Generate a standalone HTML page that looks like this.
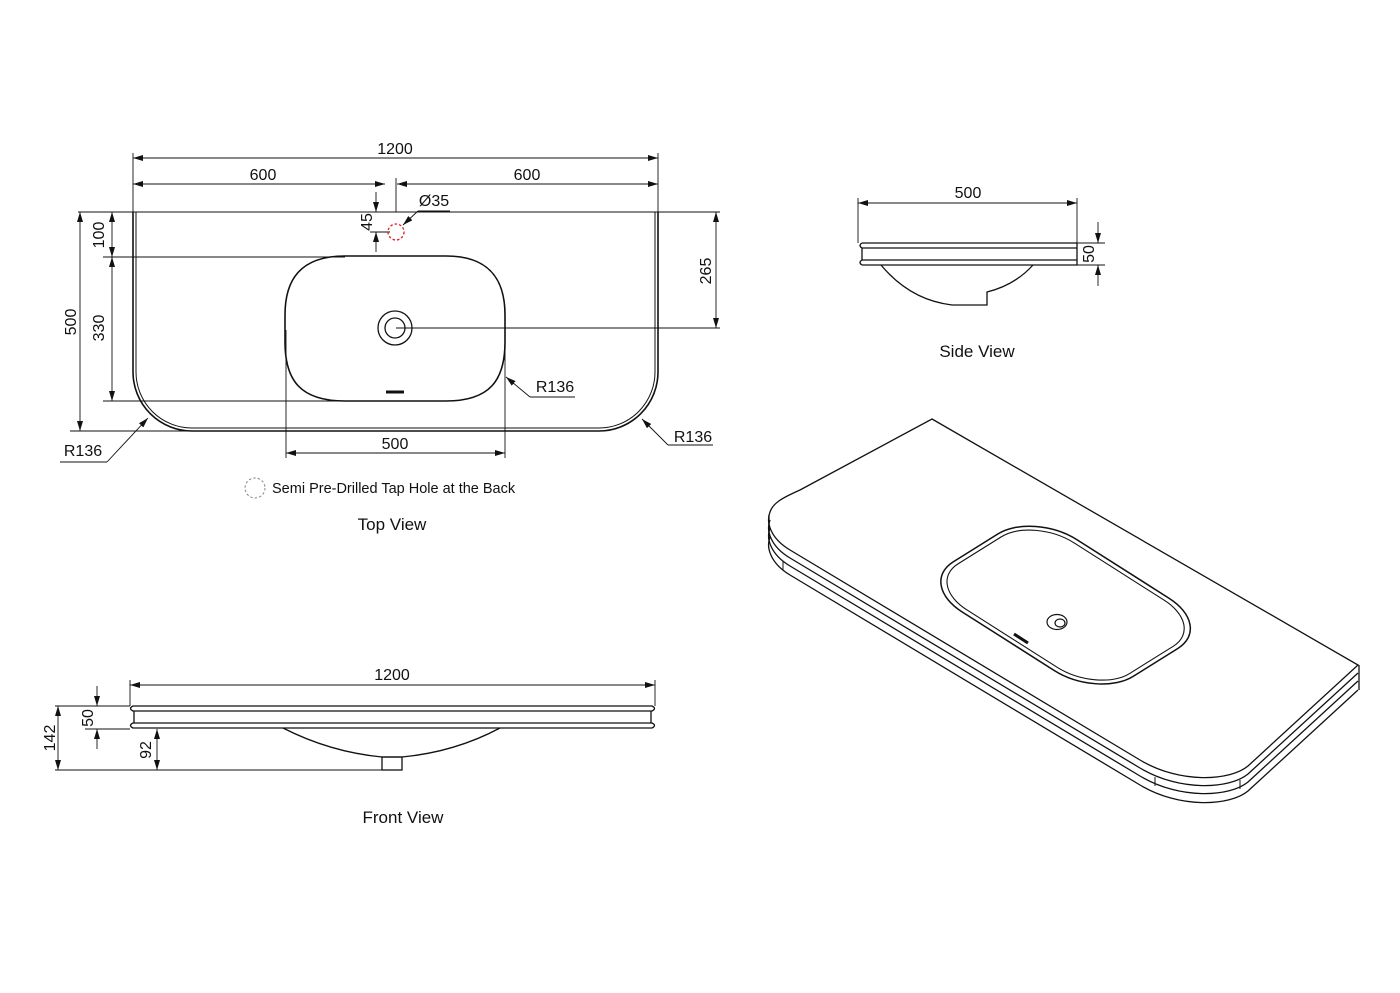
<!DOCTYPE html>
<html><head><meta charset="utf-8"><style>
html,body{margin:0;padding:0;background:#fff;}
svg{display:block;}
text{font-family:"Liberation Sans",Arial,sans-serif;fill:#111;}
</style></head><body>
<svg width="1400" height="993" viewBox="0 0 1400 993" xmlns="http://www.w3.org/2000/svg">
<defs>
<marker id="a" viewBox="0 0 10 6" refX="10" refY="3" markerWidth="10" markerHeight="6" markerUnits="userSpaceOnUse" orient="auto-start-reverse"><path d="M0,0 L10,3 L0,6 Z" fill="#111"/></marker>
</defs>
<g fill="none" stroke="#111">
<!-- TOP VIEW -->
<g stroke-width="0.9">
<line x1="133" y1="153" x2="133" y2="212"/><line x1="658" y1="153" x2="658" y2="212"/>
<line x1="133" y1="158" x2="658" y2="158" marker-start="url(#a)" marker-end="url(#a)"/>
<line x1="133" y1="184" x2="385" y2="184" marker-start="url(#a)" marker-end="url(#a)"/>
<line x1="397" y1="184" x2="658" y2="184" marker-start="url(#a)" marker-end="url(#a)"/>
<line x1="396" y1="178" x2="396" y2="212"/>
<line x1="376" y1="192" x2="376" y2="212" marker-end="url(#a)"/>
<line x1="376" y1="252" x2="376" y2="232" marker-end="url(#a)"/>
<line x1="370" y1="232" x2="390" y2="232"/>
<line x1="78" y1="212" x2="720" y2="212"/>
<line x1="418" y1="211" x2="450" y2="211"/>
<line x1="418" y1="211" x2="403" y2="225" marker-end="url(#a)"/>
<line x1="103" y1="257" x2="345" y2="257"/>
<line x1="103" y1="401" x2="340" y2="401"/>
<line x1="70" y1="431" x2="190" y2="431"/>
<line x1="396" y1="328" x2="720" y2="328"/>
<line x1="112" y1="212" x2="112" y2="257" marker-start="url(#a)" marker-end="url(#a)"/>
<line x1="112" y1="257" x2="112" y2="401" marker-start="url(#a)" marker-end="url(#a)"/>
<line x1="80" y1="212" x2="80" y2="431" marker-start="url(#a)" marker-end="url(#a)"/>
<line x1="716" y1="212" x2="716" y2="328" marker-start="url(#a)" marker-end="url(#a)"/>
<line x1="286" y1="330" x2="286" y2="458"/><line x1="505" y1="330" x2="505" y2="458"/>
<line x1="286" y1="453" x2="505" y2="453" marker-start="url(#a)" marker-end="url(#a)"/>
<line x1="530" y1="397" x2="506" y2="377" marker-end="url(#a)"/><line x1="530" y1="397" x2="575" y2="397"/>
<line x1="107" y1="462" x2="148" y2="418" marker-end="url(#a)"/><line x1="60" y1="462" x2="107" y2="462"/>
<line x1="668" y1="445" x2="642" y2="419" marker-end="url(#a)"/><line x1="668" y1="445" x2="713" y2="445"/>
</g>
<path d="M133,212 L133,372 A59,59 0 0 0 192,431 L599,431 A59,59 0 0 0 658,372 L658,212" stroke-width="1.6"/>
<path d="M136,212 L136,372 A56,56 0 0 0 192,428 L599,428 A56,56 0 0 0 655,372 L655,212" stroke-width="1"/>
<path d="M345,256 L446,256 C490,256 505,280 505,315 L505,342 C505,380 490,401 446,401 L345,401 C300,401 285,380 285,342 L285,315 C285,280 300,256 345,256 Z" stroke-width="1.6"/>
<circle cx="395" cy="328" r="17" stroke-width="1.3"/><circle cx="395" cy="328" r="10" stroke-width="1.3"/>
<line x1="386" y1="392" x2="404" y2="392" stroke-width="3"/>
<circle cx="396" cy="232" r="8" stroke="#d22" stroke-width="1.3" stroke-dasharray="2.5,2"/>
<circle cx="255" cy="488" r="10" stroke="#888" stroke-width="1" stroke-dasharray="2.5,2"/>

<!-- SIDE VIEW -->
<g stroke-width="0.9">
<line x1="858" y1="198" x2="858" y2="243"/><line x1="1077" y1="198" x2="1077" y2="243"/>
<line x1="858" y1="203" x2="1077" y2="203" marker-start="url(#a)" marker-end="url(#a)"/>
<line x1="1077" y1="243" x2="1105" y2="243"/><line x1="1077" y1="265" x2="1105" y2="265"/>
<line x1="1098" y1="222" x2="1098" y2="243" marker-end="url(#a)"/>
<line x1="1098" y1="286" x2="1098" y2="265" marker-end="url(#a)"/>
</g>
<g stroke-width="1.3">
<path d="M862,243 L1077,243 L1077,265 L862,265"/>
<path d="M862,243 Q858,245.5 862,248 L1077,248"/>
<path d="M862,260 Q858,262.5 862,265"/>
<line x1="862" y1="260" x2="1077" y2="260"/>
<line x1="862" y1="248" x2="862" y2="260"/>
<path d="M881,265 Q910,300 952,305 L987,305 L987,292 Q1015,285 1033,265"/>
</g>

<!-- FRONT VIEW -->
<g stroke-width="0.9">
<line x1="130" y1="680" x2="130" y2="706"/><line x1="655" y1="680" x2="655" y2="706"/>
<line x1="130" y1="685" x2="655" y2="685" marker-start="url(#a)" marker-end="url(#a)"/>
<line x1="55" y1="706" x2="130" y2="706"/>
<line x1="85" y1="729" x2="130" y2="729"/>
<line x1="55" y1="770" x2="402" y2="770"/>
<line x1="58" y1="706" x2="58" y2="770" marker-start="url(#a)" marker-end="url(#a)"/>
<line x1="97" y1="686" x2="97" y2="706" marker-end="url(#a)"/>
<line x1="97" y1="749" x2="97" y2="729" marker-end="url(#a)"/>
<line x1="157" y1="729" x2="157" y2="770" marker-start="url(#a)" marker-end="url(#a)"/>
</g>
<g stroke-width="1.3">
<path d="M133,706 L652,706 Q657,708.5 652,711 L133,711 Q128,708.5 133,706 Z"/>
<path d="M133,723 L652,723 Q657,725.5 652,728 L133,728 Q128,725.5 133,723 Z"/>
<line x1="134" y1="711" x2="134" y2="723"/><line x1="651" y1="711" x2="651" y2="723"/>
<path d="M283,728 Q330,752 382,757 L402,757 Q455,752 500,728"/>
<rect x="382" y="757" width="20" height="13"/>
</g>

<!-- ISO VIEW -->
<g stroke-width="1.3">
<path d="M932,419 L1358,665 L1248,766 C1230,781 1180,784 1140,760 L790,550 C770,538 766,522 770,512 C773,503 782,498 800,490 Z"/>
<path d="M770,512 C766,522 770,538 790,550 L1140,760 C1180,784 1230,781 1248,766 L1358,665" transform="translate(0,8)"/>
<path d="M770,512 C766,522 770,538 790,550 L1140,760 C1180,784 1230,781 1248,766 L1358,665" transform="translate(0,16)"/>
<path d="M770,512 C766,522 770,538 790,550 L1140,760 C1180,784 1230,781 1248,766 L1358,665" transform="translate(0,25)"/>
<line x1="769" y1="515" x2="769" y2="540"/>
<line x1="1359" y1="665" x2="1359" y2="690"/>
<line x1="783" y1="561" x2="783" y2="570" stroke-width="1"/>
<line x1="1155" y1="777" x2="1155" y2="786" stroke-width="1"/>
<line x1="1240" y1="780" x2="1240" y2="789" stroke-width="1"/>
</g>
<g transform="matrix(1,0.636,-1.6,1,0,0)">
<rect x="918" y="-72" width="180" height="72" rx="44" ry="22" stroke-width="1.5" vector-effect="non-scaling-stroke"/>
<rect x="922" y="-69.5" width="172" height="67" rx="41" ry="20" stroke-width="1.1" vector-effect="non-scaling-stroke"/>
</g>
<ellipse cx="1057" cy="622" rx="10" ry="7.5" stroke-width="1.2"/>
<ellipse cx="1060" cy="623" rx="5" ry="4" stroke-width="1.2"/>
<line x1="1014" y1="634" x2="1028" y2="643" stroke-width="3"/>
</g>

<g font-size="16">
<text x="395" y="154" text-anchor="middle">1200</text>
<text x="263" y="180" text-anchor="middle">600</text>
<text x="527" y="180" text-anchor="middle">600</text>
<text x="434" y="206" text-anchor="middle">Ø35</text>
<text transform="translate(372,222) rotate(-90)" text-anchor="middle">45</text>
<text transform="translate(104,235) rotate(-90)" text-anchor="middle">100</text>
<text transform="translate(104,328) rotate(-90)" text-anchor="middle">330</text>
<text transform="translate(76,322) rotate(-90)" text-anchor="middle">500</text>
<text transform="translate(711,271) rotate(-90)" text-anchor="middle">265</text>
<text x="395" y="449" text-anchor="middle">500</text>
<text x="555" y="392" text-anchor="middle">R136</text>
<text x="83" y="456" text-anchor="middle">R136</text>
<text x="693" y="442" text-anchor="middle">R136</text>
<text x="968" y="198" text-anchor="middle">500</text>
<text transform="translate(1094,254) rotate(-90)" text-anchor="middle">50</text>
<text x="392" y="680" text-anchor="middle">1200</text>
<text transform="translate(55,738) rotate(-90)" text-anchor="middle">142</text>
<text transform="translate(93,718) rotate(-90)" text-anchor="middle">50</text>
<text transform="translate(151,750) rotate(-90)" text-anchor="middle">92</text>
</g>
<text x="272" y="493" font-size="14.5">Semi Pre-Drilled Tap Hole at the Back</text>
<text x="392" y="530" font-size="17" text-anchor="middle">Top View</text>
<text x="977" y="357" font-size="17" text-anchor="middle">Side View</text>
<text x="403" y="823" font-size="17" text-anchor="middle">Front View</text>
</svg>
</body></html>
